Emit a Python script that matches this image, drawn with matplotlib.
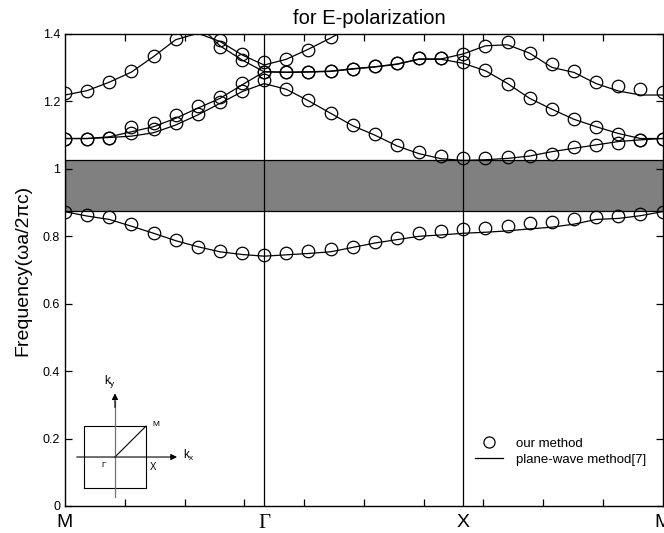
import numpy as np
import matplotlib
matplotlib.use("Agg")
import matplotlib.pyplot as plt
from matplotlib.lines import Line2D

plt.rcParams['font.family'] = ['Liberation Sans', 'DejaVu Sans']

nan = np.nan
# 28 k-points along M -> Gamma -> X -> M (9 intervals per segment)
k = np.linspace(0, 10, 28)
seg_ticks = [0, 10/3, 20/3, 10]
seg_labels = ['M', 'Γ', 'X', 'M']

# ---- "our method" (circles) ----
A_c = [0.873, 0.863, 0.856, 0.836, 0.809, 0.789, 0.769, 0.756, 0.749, 0.744,
       0.749, 0.757, 0.763, 0.769, 0.784, 0.796, 0.811, 0.817, 0.821,
       0.824, 0.830, 0.838, 0.843, 0.850, 0.856, 0.861, 0.866, 0.873]
B_c = [1.090, 1.090, 1.093, 1.105, 1.117, 1.137, 1.163, 1.198, 1.232, 1.264,
       1.236, 1.204, 1.165, 1.130, 1.103, 1.070, 1.049, 1.038, 1.032,
       1.032, 1.034, 1.038, 1.044, 1.064, 1.071, 1.076, 1.086, 1.090]
C_c = [1.090, 1.090, 1.093, 1.125, 1.137, 1.160, 1.186, 1.214, 1.254, 1.288,
       1.288, 1.286, 1.291, 1.295, 1.305, 1.315, 1.330, 1.330, 1.316,
       1.293, 1.253, 1.209, 1.177, 1.147, 1.123, 1.103, 1.086, 1.090]
F_c = [nan, nan, nan, nan, nan, nan, nan, 1.362, 1.322, 1.288,
       1.288, 1.286, 1.291, 1.295, 1.305, 1.315, 1.330, 1.330, 1.341,
       1.365, 1.377, 1.343, 1.311, 1.290, 1.259, 1.247, 1.236, 1.227]
D_c = [1.226, 1.232, 1.258, 1.289, 1.336, 1.384, nan, 1.382, 1.342, 1.316,
       1.327, 1.353, 1.390, nan, nan, nan, nan, nan, nan,
       nan, nan, nan, nan, nan, nan, nan, nan, nan]

# ---- plane-wave method (lines) ----
A_l = [0.873, 0.860, 0.850, 0.830, 0.809, 0.787, 0.769, 0.754, 0.746, 0.741,
       0.745, 0.749, 0.754, 0.767, 0.780, 0.790, 0.800, 0.804, 0.809,
       0.812, 0.816, 0.822, 0.827, 0.836, 0.850, 0.853, 0.861, 0.873]
B_l = [1.090, 1.090, 1.093, 1.097, 1.107, 1.130, 1.160, 1.194, 1.229, 1.253,
       1.236, 1.202, 1.165, 1.128, 1.100, 1.068, 1.045, 1.030, 1.025,
       1.027, 1.031, 1.038, 1.051, 1.061, 1.071, 1.081, 1.086, 1.090]
C_l = [1.090, 1.090, 1.095, 1.110, 1.125, 1.150, 1.180, 1.209, 1.249, 1.288,
       1.286, 1.287, 1.289, 1.296, 1.302, 1.310, 1.325, 1.325, 1.313,
       1.291, 1.253, 1.209, 1.177, 1.147, 1.125, 1.105, 1.090, 1.090]
F_l = [nan, nan, nan, nan, nan, nan, 1.430, 1.365, 1.323, 1.288,
       1.287, 1.288, 1.290, 1.297, 1.303, 1.311, 1.326, 1.326, 1.341,
       1.365, 1.368, 1.343, 1.301, 1.286, 1.253, 1.231, 1.219, 1.219]
D_l = [1.219, 1.232, 1.257, 1.287, 1.333, 1.383, 1.402, 1.378, 1.338, 1.308,
       1.325, 1.355, 1.388, 1.425, nan, nan, nan, nan, nan,
       nan, nan, nan, nan, nan, nan, nan, nan, nan]

gap_lo, gap_hi = 0.875, 1.026

W, H = 664, 533
fig = plt.figure(figsize=(W/100, H/100), dpi=100)
ax = fig.add_axes([65/W, 27/H, 597.5/W, 472/H])

ax.axhspan(gap_lo, gap_hi, facecolor='#808080', edgecolor='black', lw=0.9, zorder=1)
for xv in seg_ticks[1:3]:
    ax.axvline(xv, color='black', lw=0.9, zorder=2)

for band in (A_l, B_l, C_l, F_l, D_l):
    ax.plot(k, band, color='black', lw=0.9, zorder=3)
for band in (A_c, B_c, C_c, F_c, D_c):
    ax.plot(k, band, ls='none', marker='o', ms=9, mfc='none', mec='black',
            mew=0.9, zorder=4)

ax.set_xlim(0, 10)
ax.set_ylim(0, 1.4)
ax.set_xticks(range(1, 10))
ax.tick_params(axis='x', which='major', direction='in', length=5, width=0.9,
               top=True, bottom=True, labelbottom=False)
ax.set_xticks(seg_ticks, minor=True)
ax.set_xticklabels(seg_labels, minor=True, fontsize=14)
ax.tick_params(axis='x', which='minor', length=0, pad=6)
for lab in ax.get_xticklabels(minor=True):
    if lab.get_text() == 'Γ':
        lab.set_family(['Liberation Serif', 'DejaVu Serif'])
        lab.set_fontsize(15)

yt = [0, 0.2, 0.4, 0.6, 0.8, 1.0, 1.2, 1.4]
ax.set_yticks(yt)
ax.set_yticklabels(['0', '0.2', '0.4', '0.6', '0.8', '1', '1.2', '1.4'], fontsize=9)
ax.tick_params(axis='y', direction='in', length=5, width=0.9, right=True, pad=3.5)
for s in ax.spines.values():
    s.set_linewidth(1.0)

ax.set_ylabel('Frequency(ωa/2πc)', fontsize=14)
ax.yaxis.set_label_coords(-0.07, 0.5)
ax.yaxis.label.set_va('center')

fig.text(369/W, 1 - 18/H, 'for E-polarization', fontsize=14.5, ha='center', va='center')

handles = [Line2D([], [], ls='none', marker='o', ms=8, mfc='none', mec='black', mew=0.9),
           Line2D([], [], color='black', lw=0.9)]
ax.legend(handles, ['our method', 'plane-wave method[7]'], frameon=False,
          loc='lower left', bbox_to_anchor=(0.686, 0.085), fontsize=9.5,
          handlelength=2.1, handletextpad=1.0, labelspacing=0.3,
          borderpad=0, borderaxespad=0)

# Brillouin-zone inset
ins = fig.add_axes([65/W, 28/H, 140/W, 130/H])
ins.set_xlim(-1.61, 2.9)
ins.set_ylim(-1.55, 2.65)
ins.axis('off')
ins.patch.set_alpha(0)
ins.plot([-1, 1, 1, -1, -1], [-1, -1, 1, 1, -1], color='black', lw=0.8)
ins.plot([0, 1], [0, 1], color='black', lw=0.8)
ins.annotate('', xy=(2.0, 0), xytext=(-1.23, 0),
             arrowprops=dict(arrowstyle='-|>', color='black', lw=0.8,
                             mutation_scale=9, shrinkA=0, shrinkB=0))
ins.plot([0, 0], [-1.29, 1.8], color='0.45', lw=0.9)
ins.annotate('', xy=(0, 2.06), xytext=(0, 1.6),
             arrowprops=dict(arrowstyle='-|>', color='black', lw=0.8,
                             mutation_scale=9, shrinkA=0, shrinkB=0))
ins.text(-0.16, 2.45, r'k$_\mathregular{y}$', fontsize=8.5, ha='center', va='center')
ins.text(2.37, 0.06, r'k$_\mathregular{x}$', fontsize=8.5, ha='center', va='center')
ins.text(1.32, 1.05, 'M', fontsize=6, ha='center', va='center')
ins.text(-0.35, -0.26, 'Γ', fontsize=6, ha='center', va='center')
ins.text(1.24, -0.33, 'X', fontsize=7, ha='center', va='center')

fig.savefig('out.png', dpi=100)
